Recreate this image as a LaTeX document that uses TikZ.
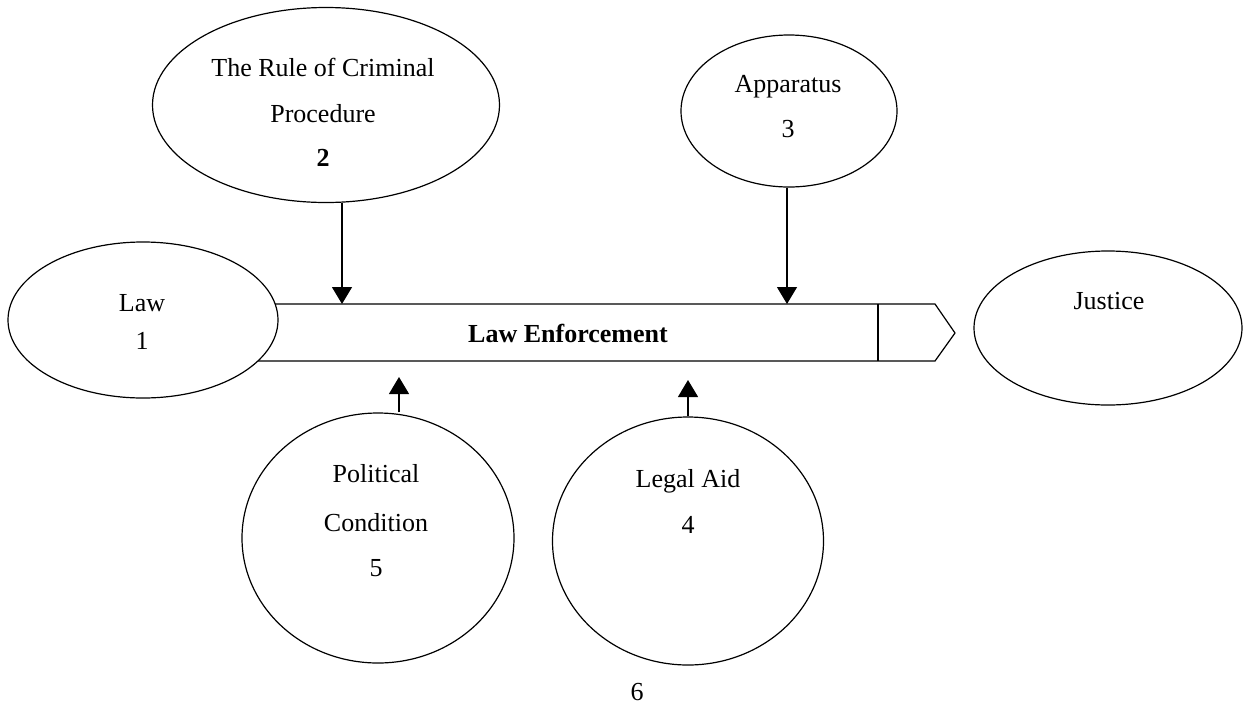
\documentclass[tikz,border=0pt]{standalone}
\usepackage{fontspec}
\setmainfont{Liberation Serif}
\usetikzlibrary{shapes.geometric,arrows.meta}
\begin{document}
\begin{tikzpicture}[x=1pt,y=-1pt,
  shp/.style={draw, line width=1.2pt, ellipse, inner sep=0pt, fill=white},
  lbl/.style={anchor=base, inner sep=0pt, font=\fontsize{26pt}{30pt}\selectfont},
  arr/.style={line width=1.2pt, -{Triangle[width=20pt,length=17pt]}},
  bandline/.style={line width=1.2pt, line join=miter}]
\useasboundingbox (0,0) rectangle (1243,705);
% band (Law Enforcement)
\draw[bandline] (240,304) -- (935,304) -- (955,333) -- (935,361) -- (240,361);
\draw[bandline] (878,304) -- (878,361);
% shapes
\node[shp, minimum width=347pt, minimum height=195pt] (rule) at (326,105) {};
\node[shp, minimum width=216pt, minimum height=152pt] (app) at (789,111) {};
\node[shp, minimum width=270pt, minimum height=156pt] (law) at (143,320) {};
\node[shp, minimum width=268pt, minimum height=154pt] (just) at (1108,328) {};
\node[shp, minimum width=272pt, minimum height=250pt] (pol) at (378,538) {};
\node[shp, minimum width=271pt, minimum height=248pt] (aid) at (688,541) {};
% arrow targets
\coordinate (t2) at (342,304);
\coordinate (t3) at (787,304);
\coordinate (t5) at (399,377);
\coordinate (t4) at (688,380);
\draw[arr] (rule.south -| t2) -- (t2);
\draw[arr] (app.south -| t3) -- (t3);
\draw[arr] (pol.north -| t5) -- (t5);
\draw[arr] (aid.north -| t4) -- (t4);
% labels
\node[lbl] (l2a) at (323,76) {The Rule of Criminal};
\node[lbl] (l2b) at (323,122) {Procedure};
\node[lbl, font=\fontsize{26pt}{30pt}\selectfont\bfseries] (l2c) at (323,166) {2};
\node[lbl] (l3a) at (788,92) {Apparatus};
\node[lbl] (l3b) at (788,137) {3};
\node[lbl] (l1a) at (142,311) {Law};
\node[lbl] (l1b) at (142,349) {1};
\node[lbl] (lj) at (1109,309) {Justice};
\node[lbl, font=\fontsize{26pt}{30pt}\selectfont\bfseries] (le) at (568,342) {Law Enforcement};
\node[lbl] (l5a) at (376,482) {Political};
\node[lbl] (l5b) at (376,531) {Condition};
\node[lbl] (l5c) at (376,576) {5};
\node[lbl] (l4a) at (688,487) {Legal Aid};
\node[lbl] (l4b) at (688,533) {4};
\node[lbl] (l6) at (637,700) {6};
\end{tikzpicture}
\end{document}
